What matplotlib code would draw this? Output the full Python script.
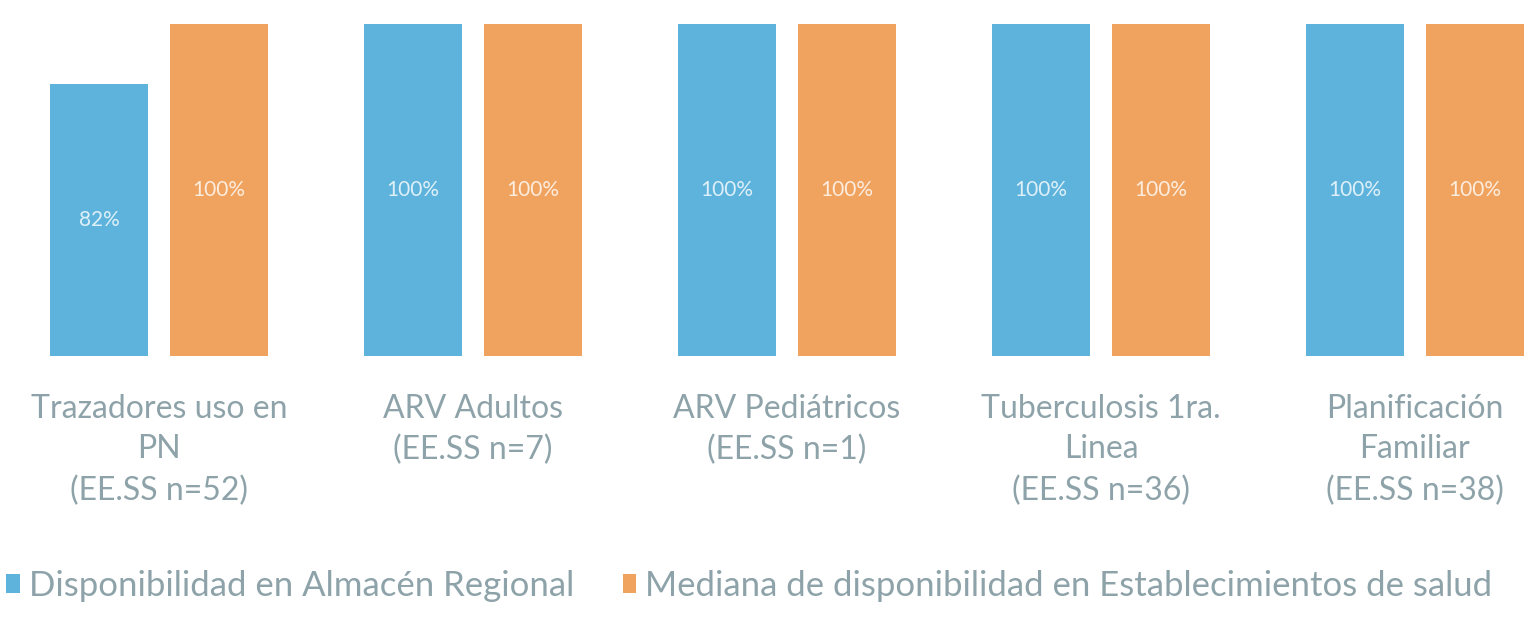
import matplotlib.pyplot as plt
import numpy as np
from matplotlib.patches import Patch

# data
categories = [
    'Trazadores uso en\nPN\n(EE.SS n=52)',
    'ARV Adultos\n(EE.SS n=7)',
    'ARV Pediátricos\n(EE.SS n=1)',
    'Tuberculosis 1ra.\nLinea\n(EE.SS n=36)',
    'Planificación\nFamiliar\n(EE.SS n=38)',
]
almacen_regional = [82, 100, 100, 100, 100]
mediana_establecimientos = [100, 100, 100, 100, 100]
series_names = ['Disponibilidad en Almacén Regional',
                'Mediana de disponibilidad en Establecimientos de salud']

blue = '#5db3dc'
orange = '#f0a35f'
text_color = '#8ea3a9'

plt.rcParams['font.family'] = ['Lato', 'DejaVu Sans']

fig = plt.figure(figsize=(15.27, 6.19), dpi=100)
# axes placed in pixel terms: baseline ~356 px from top, 100% ~24 px from top
ax = fig.add_axes([0, (619 - 356) / 619, 1, 332 / 619])

x = np.arange(len(categories))
width = 0.312
offset = 0.191

b1 = ax.bar(x - offset, almacen_regional, width, color=blue)
b2 = ax.bar(x + offset, mediana_establecimientos, width, color=orange)

for bars in (b1, b2):
    for rect in bars:
        h = rect.get_height()
        ax.text(rect.get_x() + rect.get_width() / 2, h / 2, f'{h:.0f}%',
                ha='center', va='center', color='white', fontsize=15, alpha=0.8)

ax.set_xlim(-159 / 314, (1527 - 159) / 314)
ax.set_ylim(0, 100)
ax.set_xticks(x)
ax.set_xticklabels(categories, fontsize=23, color=text_color, linespacing=1.45)
ax.tick_params(axis='x', length=0, pad=27)
ax.set_yticks([])
for s in ax.spines.values():
    s.set_visible(False)

handles = [Patch(facecolor=blue), Patch(facecolor=orange)]
fig.legend(handles, series_names, loc='center left', bbox_to_anchor=(0.004, 1 - 586 / 619),
           ncol=2, frameon=False, fontsize=25, labelcolor=text_color,
           handlelength=0.4, handleheight=0.45, handletextpad=0.25,
           columnspacing=1.4, borderaxespad=0, borderpad=0)

fig.savefig('out.png', dpi=100)
